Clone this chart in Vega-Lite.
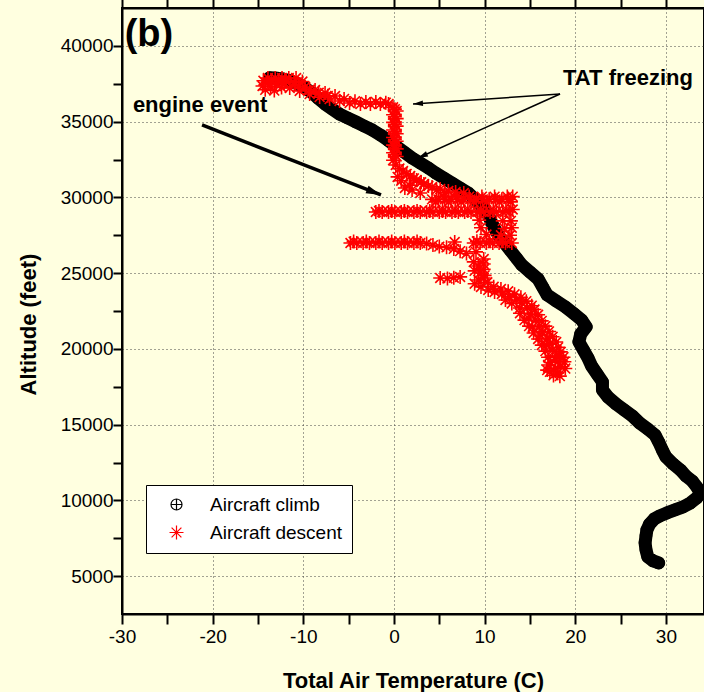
{
  "$schema": "https://vega.github.io/schema/vega-lite/v6.json",
  "width": 582,
  "height": 606,
  "autosize": {"type": "none"},
  "padding": {"left": 122, "top": 8, "right": 0, "bottom": 78},
  "background": "#FFFFE0",
  "config": {
    "view": {"stroke": "black", "strokeWidth": 2},
    "font": "Liberation Sans",
    "axis": {
      "labelFont": "Liberation Sans",
      "labelFontSize": 19,
      "labelColor": "black",
      "tickColor": "black",
      "tickWidth": 2,
      "domainColor": "black",
      "domainWidth": 2,
      "titleColor": "black",
      "titleFont": "Liberation Sans",
      "titleFontWeight": "bold",
      "titleFontSize": 22,
      "gridColor": "#444444",
      "gridDash": [1, 3],
      "gridWidth": 1,
      "labelFlush": false,
      "labelOverlap": false
    }
  },
  "datasets": {
    "pts": [
      {"s": "Aircraft climb", "t": 29.2, "a": 5870},
      {"s": "Aircraft climb", "t": 28.6, "a": 6000},
      {"s": "Aircraft climb", "t": 28.0, "a": 6270},
      {"s": "Aircraft climb", "t": 27.8, "a": 6730},
      {"s": "Aircraft climb", "t": 27.7, "a": 7190},
      {"s": "Aircraft climb", "t": 27.8, "a": 7650},
      {"s": "Aircraft climb", "t": 27.9, "a": 8050},
      {"s": "Aircraft climb", "t": 28.2, "a": 8440},
      {"s": "Aircraft climb", "t": 28.7, "a": 8770},
      {"s": "Aircraft climb", "t": 29.3, "a": 8970},
      {"s": "Aircraft climb", "t": 30.1, "a": 9170},
      {"s": "Aircraft climb", "t": 31.0, "a": 9370},
      {"s": "Aircraft climb", "t": 31.9, "a": 9570},
      {"s": "Aircraft climb", "t": 32.7, "a": 9830},
      {"s": "Aircraft climb", "t": 33.4, "a": 10160},
      {"s": "Aircraft climb", "t": 33.8, "a": 10490},
      {"s": "Aircraft climb", "t": 33.4, "a": 10890},
      {"s": "Aircraft climb", "t": 32.9, "a": 11280},
      {"s": "Aircraft climb", "t": 32.2, "a": 11610},
      {"s": "Aircraft climb", "t": 31.6, "a": 12010},
      {"s": "Aircraft climb", "t": 30.8, "a": 12400},
      {"s": "Aircraft climb", "t": 30.0, "a": 12870},
      {"s": "Aircraft climb", "t": 29.6, "a": 13330},
      {"s": "Aircraft climb", "t": 29.2, "a": 13860},
      {"s": "Aircraft climb", "t": 28.8, "a": 14320},
      {"s": "Aircraft climb", "t": 28.0, "a": 14710},
      {"s": "Aircraft climb", "t": 27.1, "a": 15110},
      {"s": "Aircraft climb", "t": 26.3, "a": 15570},
      {"s": "Aircraft climb", "t": 25.4, "a": 15970},
      {"s": "Aircraft climb", "t": 24.5, "a": 16360},
      {"s": "Aircraft climb", "t": 23.6, "a": 16820},
      {"s": "Aircraft climb", "t": 23.0, "a": 17290},
      {"s": "Aircraft climb", "t": 23.0, "a": 17820},
      {"s": "Aircraft climb", "t": 22.4, "a": 18340},
      {"s": "Aircraft climb", "t": 21.8, "a": 18870},
      {"s": "Aircraft climb", "t": 21.4, "a": 19400},
      {"s": "Aircraft climb", "t": 20.9, "a": 19930},
      {"s": "Aircraft climb", "t": 20.4, "a": 20460},
      {"s": "Aircraft climb", "t": 20.6, "a": 20980},
      {"s": "Aircraft climb", "t": 21.2, "a": 21450},
      {"s": "Aircraft climb", "t": 20.7, "a": 21910},
      {"s": "Aircraft climb", "t": 19.9, "a": 22300},
      {"s": "Aircraft climb", "t": 18.9, "a": 22770},
      {"s": "Aircraft climb", "t": 17.9, "a": 23160},
      {"s": "Aircraft climb", "t": 16.9, "a": 23560},
      {"s": "Aircraft climb", "t": 16.4, "a": 24080},
      {"s": "Aircraft climb", "t": 15.9, "a": 24610},
      {"s": "Aircraft climb", "t": 15.0, "a": 25070},
      {"s": "Aircraft climb", "t": 14.1, "a": 25540},
      {"s": "Aircraft climb", "t": 13.5, "a": 26000},
      {"s": "Aircraft climb", "t": 12.8, "a": 26530},
      {"s": "Aircraft climb", "t": 12.1, "a": 27060},
      {"s": "Aircraft climb", "t": 11.5, "a": 27520},
      {"s": "Aircraft climb", "t": 11.0, "a": 28050},
      {"s": "Aircraft climb", "t": 10.6, "a": 28570},
      {"s": "Aircraft climb", "t": 10.2, "a": 29040},
      {"s": "Aircraft climb", "t": 9.6, "a": 29500},
      {"s": "Aircraft climb", "t": 8.9, "a": 29900},
      {"s": "Aircraft climb", "t": 8.2, "a": 30290},
      {"s": "Aircraft climb", "t": 7.3, "a": 30620},
      {"s": "Aircraft climb", "t": 6.4, "a": 30950},
      {"s": "Aircraft climb", "t": 5.5, "a": 31280},
      {"s": "Aircraft climb", "t": 4.6, "a": 31610},
      {"s": "Aircraft climb", "t": 3.8, "a": 31940},
      {"s": "Aircraft climb", "t": 2.9, "a": 32270},
      {"s": "Aircraft climb", "t": 2.0, "a": 32600},
      {"s": "Aircraft climb", "t": 1.1, "a": 32990},
      {"s": "Aircraft climb", "t": 0.2, "a": 33390},
      {"s": "Aircraft climb", "t": -0.7, "a": 33790},
      {"s": "Aircraft climb", "t": -1.5, "a": 34120},
      {"s": "Aircraft climb", "t": -2.4, "a": 34450},
      {"s": "Aircraft climb", "t": -3.3, "a": 34710},
      {"s": "Aircraft climb", "t": -4.2, "a": 34980},
      {"s": "Aircraft climb", "t": -5.1, "a": 35240},
      {"s": "Aircraft climb", "t": -6.0, "a": 35500},
      {"s": "Aircraft climb", "t": -6.8, "a": 35830},
      {"s": "Aircraft climb", "t": -7.6, "a": 36160},
      {"s": "Aircraft climb", "t": -8.4, "a": 36560},
      {"s": "Aircraft climb", "t": -9.0, "a": 36890},
      {"s": "Aircraft climb", "t": -9.8, "a": 37220},
      {"s": "Aircraft climb", "t": -10.6, "a": 37480},
      {"s": "Aircraft climb", "t": -11.5, "a": 37700},
      {"s": "Aircraft climb", "t": -12.3, "a": 37820},
      {"s": "Aircraft climb", "t": -13.1, "a": 37880},
      {"s": "Aircraft climb", "t": -13.7, "a": 37900},

      {"s": "Aircraft descent", "t": -13.9, "a": 37880},
      {"s": "Aircraft descent", "t": -13.1, "a": 37880},
      {"s": "Aircraft descent", "t": -12.35, "a": 37880},
      {"s": "Aircraft descent", "t": -11.6, "a": 37880},
      {"s": "Aircraft descent", "t": -10.8, "a": 37880},
      {"s": "Aircraft descent", "t": -14.4, "a": 37700},
      {"s": "Aircraft descent", "t": -13.5, "a": 37700},
      {"s": "Aircraft descent", "t": -12.7, "a": 37700},
      {"s": "Aircraft descent", "t": -11.9, "a": 37650},
      {"s": "Aircraft descent", "t": -11.0, "a": 37600},
      {"s": "Aircraft descent", "t": -10.1, "a": 37650},
      {"s": "Aircraft descent", "t": -13.9, "a": 37550},
      {"s": "Aircraft descent", "t": -13.0, "a": 37480},
      {"s": "Aircraft descent", "t": -12.1, "a": 37550},
      {"s": "Aircraft descent", "t": -14.5, "a": 37350},
      {"s": "Aircraft descent", "t": -13.6, "a": 37300},
      {"s": "Aircraft descent", "t": -14.2, "a": 37100},
      {"s": "Aircraft descent", "t": -13.2, "a": 37050},
      {"s": "Aircraft descent", "t": -12.4, "a": 37250},
      {"s": "Aircraft descent", "t": -11.5, "a": 37220},
      {"s": "Aircraft descent", "t": -10.5, "a": 37350},
      {"s": "Aircraft descent", "t": -10.4, "a": 37020},
      {"s": "Aircraft descent", "t": -9.3, "a": 37100},
      {"s": "Aircraft descent", "t": -9.3, "a": 36820},
      {"s": "Aircraft descent", "t": -8.3, "a": 36900},
      {"s": "Aircraft descent", "t": -8.2, "a": 36620},
      {"s": "Aircraft descent", "t": -7.3, "a": 36700},
      {"s": "Aircraft descent", "t": -7.1, "a": 36490},
      {"s": "Aircraft descent", "t": -6.0, "a": 36360},
      {"s": "Aircraft descent", "t": -5.5, "a": 36500},
      {"s": "Aircraft descent", "t": -4.9, "a": 36230},
      {"s": "Aircraft descent", "t": -4.3, "a": 36350},
      {"s": "Aircraft descent", "t": -3.7, "a": 36160},
      {"s": "Aircraft descent", "t": -3.1, "a": 36300},
      {"s": "Aircraft descent", "t": -2.6, "a": 36160},
      {"s": "Aircraft descent", "t": -2.0, "a": 36300},
      {"s": "Aircraft descent", "t": -1.5, "a": 36160},
      {"s": "Aircraft descent", "t": -0.9, "a": 36250},
      {"s": "Aircraft descent", "t": -0.6, "a": 36160},
      {"s": "Aircraft descent", "t": -12.0, "a": 37750},
      {"s": "Aircraft descent", "t": -10.9, "a": 37480},
      {"s": "Aircraft descent", "t": -9.8, "a": 37290},
      {"s": "Aircraft descent", "t": -8.7, "a": 37090},
      {"s": "Aircraft descent", "t": -7.6, "a": 36890},
      {"s": "Aircraft descent", "t": -6.5, "a": 36690},
      {"s": "Aircraft descent", "t": -0.1, "a": 35950},
      {"s": "Aircraft descent", "t": 0.3, "a": 35700},
      {"s": "Aircraft descent", "t": -0.1, "a": 35450},
      {"s": "Aircraft descent", "t": 0.3, "a": 35200},
      {"s": "Aircraft descent", "t": -0.1, "a": 34950},
      {"s": "Aircraft descent", "t": 0.3, "a": 34700},
      {"s": "Aircraft descent", "t": -0.1, "a": 34450},
      {"s": "Aircraft descent", "t": 0.3, "a": 34200},
      {"s": "Aircraft descent", "t": -0.1, "a": 33950},
      {"s": "Aircraft descent", "t": 0.3, "a": 33700},
      {"s": "Aircraft descent", "t": -0.1, "a": 33450},
      {"s": "Aircraft descent", "t": 0.3, "a": 33200},
      {"s": "Aircraft descent", "t": -0.1, "a": 32950},
      {"s": "Aircraft descent", "t": 0.3, "a": 32700},
      {"s": "Aircraft descent", "t": -0.1, "a": 32450},
      {"s": "Aircraft descent", "t": 0.1, "a": 35825},
      {"s": "Aircraft descent", "t": 0.1, "a": 35325},
      {"s": "Aircraft descent", "t": 0.1, "a": 34825},
      {"s": "Aircraft descent", "t": 0.1, "a": 34325},
      {"s": "Aircraft descent", "t": 0.1, "a": 33825},
      {"s": "Aircraft descent", "t": 0.1, "a": 33325},
      {"s": "Aircraft descent", "t": 0.1, "a": 32825},
      {"s": "Aircraft descent", "t": 0.2, "a": 32140},
      {"s": "Aircraft descent", "t": 1.0, "a": 31740},
      {"s": "Aircraft descent", "t": 1.8, "a": 31410},
      {"s": "Aircraft descent", "t": 2.5, "a": 31150},
      {"s": "Aircraft descent", "t": 3.3, "a": 30880},
      {"s": "Aircraft descent", "t": 4.2, "a": 30690},
      {"s": "Aircraft descent", "t": 5.1, "a": 30550},
      {"s": "Aircraft descent", "t": 6.0, "a": 30420},
      {"s": "Aircraft descent", "t": 6.8, "a": 30350},
      {"s": "Aircraft descent", "t": 7.7, "a": 30290},
      {"s": "Aircraft descent", "t": 0.6, "a": 31900},
      {"s": "Aircraft descent", "t": 1.4, "a": 31550},
      {"s": "Aircraft descent", "t": 2.2, "a": 31250},
      {"s": "Aircraft descent", "t": 3.0, "a": 31000},
      {"s": "Aircraft descent", "t": 3.8, "a": 30750},
      {"s": "Aircraft descent", "t": 4.7, "a": 30500},
      {"s": "Aircraft descent", "t": 5.6, "a": 30300},
      {"s": "Aircraft descent", "t": 0.8, "a": 31100},
      {"s": "Aircraft descent", "t": 1.7, "a": 30800},
      {"s": "Aircraft descent", "t": 0.4, "a": 31350},
      {"s": "Aircraft descent", "t": 1.2, "a": 30620},
      {"s": "Aircraft descent", "t": 2.0, "a": 30490},
      {"s": "Aircraft descent", "t": 2.9, "a": 30290},
      {"s": "Aircraft descent", "t": 4.2, "a": 29870},
      {"s": "Aircraft descent", "t": 4.9, "a": 29870},
      {"s": "Aircraft descent", "t": 5.6, "a": 29870},
      {"s": "Aircraft descent", "t": 6.3, "a": 29870},
      {"s": "Aircraft descent", "t": 7.0, "a": 29870},
      {"s": "Aircraft descent", "t": 7.7, "a": 29870},
      {"s": "Aircraft descent", "t": 8.4, "a": 29870},
      {"s": "Aircraft descent", "t": 9.1, "a": 29870},
      {"s": "Aircraft descent", "t": 9.8, "a": 29870},
      {"s": "Aircraft descent", "t": 10.5, "a": 29870},
      {"s": "Aircraft descent", "t": 11.2, "a": 29870},
      {"s": "Aircraft descent", "t": 11.9, "a": 29870},
      {"s": "Aircraft descent", "t": 12.6, "a": 29870},
      {"s": "Aircraft descent", "t": 13.1, "a": 30050},
      {"s": "Aircraft descent", "t": 5.5, "a": 30050},
      {"s": "Aircraft descent", "t": 6.9, "a": 30050},
      {"s": "Aircraft descent", "t": 8.3, "a": 30050},
      {"s": "Aircraft descent", "t": 9.7, "a": 30050},
      {"s": "Aircraft descent", "t": 11.1, "a": 30050},
      {"s": "Aircraft descent", "t": 12.5, "a": 30050},
      {"s": "Aircraft descent", "t": 4.6, "a": 29700},
      {"s": "Aircraft descent", "t": 6.0, "a": 29700},
      {"s": "Aircraft descent", "t": 7.4, "a": 29700},
      {"s": "Aircraft descent", "t": 8.8, "a": 29700},
      {"s": "Aircraft descent", "t": 10.2, "a": 29700},
      {"s": "Aircraft descent", "t": 11.6, "a": 29700},
      {"s": "Aircraft descent", "t": 12.9, "a": 29700},
      {"s": "Aircraft descent", "t": -2.0, "a": 29036},
      {"s": "Aircraft descent", "t": -1.3, "a": 29036},
      {"s": "Aircraft descent", "t": -0.6, "a": 29036},
      {"s": "Aircraft descent", "t": 0.1, "a": 29036},
      {"s": "Aircraft descent", "t": 0.8, "a": 29036},
      {"s": "Aircraft descent", "t": 1.5, "a": 29036},
      {"s": "Aircraft descent", "t": 2.2, "a": 29036},
      {"s": "Aircraft descent", "t": 2.9, "a": 29036},
      {"s": "Aircraft descent", "t": 3.6, "a": 29036},
      {"s": "Aircraft descent", "t": 4.3, "a": 29036},
      {"s": "Aircraft descent", "t": 5.0, "a": 29036},
      {"s": "Aircraft descent", "t": 5.7, "a": 29036},
      {"s": "Aircraft descent", "t": 6.4, "a": 29036},
      {"s": "Aircraft descent", "t": 7.1, "a": 29036},
      {"s": "Aircraft descent", "t": 7.8, "a": 29036},
      {"s": "Aircraft descent", "t": 8.5, "a": 29036},
      {"s": "Aircraft descent", "t": 9.2, "a": 29036},
      {"s": "Aircraft descent", "t": 9.9, "a": 29036},
      {"s": "Aircraft descent", "t": 10.6, "a": 29036},
      {"s": "Aircraft descent", "t": 11.3, "a": 29036},
      {"s": "Aircraft descent", "t": 12.0, "a": 29036},
      {"s": "Aircraft descent", "t": 12.7, "a": 29036},
      {"s": "Aircraft descent", "t": -1.65, "a": 29100},
      {"s": "Aircraft descent", "t": -0.25, "a": 29100},
      {"s": "Aircraft descent", "t": 1.15, "a": 29100},
      {"s": "Aircraft descent", "t": 2.55, "a": 29100},
      {"s": "Aircraft descent", "t": 3.95, "a": 29100},
      {"s": "Aircraft descent", "t": 5.35, "a": 29100},
      {"s": "Aircraft descent", "t": 6.75, "a": 29100},
      {"s": "Aircraft descent", "t": 8.15, "a": 29100},
      {"s": "Aircraft descent", "t": 9.55, "a": 29100},
      {"s": "Aircraft descent", "t": 10.95, "a": 29100},
      {"s": "Aircraft descent", "t": 12.35, "a": 29100},
      {"s": "Aircraft descent", "t": 13.1, "a": 29200},
      {"s": "Aircraft descent", "t": 9.4, "a": 28500},
      {"s": "Aircraft descent", "t": 12.0, "a": 28450},
      {"s": "Aircraft descent", "t": 12.9, "a": 28450},
      {"s": "Aircraft descent", "t": 9.6, "a": 28000},
      {"s": "Aircraft descent", "t": 12.2, "a": 27950},
      {"s": "Aircraft descent", "t": 13.0, "a": 28000},
      {"s": "Aircraft descent", "t": 11.8, "a": 27500},
      {"s": "Aircraft descent", "t": 12.8, "a": 27500},
      {"s": "Aircraft descent", "t": 10.2, "a": 27550},
      {"s": "Aircraft descent", "t": -4.8, "a": 26990},
      {"s": "Aircraft descent", "t": -4.1, "a": 26990},
      {"s": "Aircraft descent", "t": -3.4, "a": 26990},
      {"s": "Aircraft descent", "t": -2.7, "a": 26990},
      {"s": "Aircraft descent", "t": -2.0, "a": 26990},
      {"s": "Aircraft descent", "t": -1.3, "a": 26990},
      {"s": "Aircraft descent", "t": -0.6, "a": 26990},
      {"s": "Aircraft descent", "t": 0.1, "a": 26990},
      {"s": "Aircraft descent", "t": 0.8, "a": 26990},
      {"s": "Aircraft descent", "t": 1.5, "a": 26990},
      {"s": "Aircraft descent", "t": 2.2, "a": 26990},
      {"s": "Aircraft descent", "t": 2.9, "a": 26990},
      {"s": "Aircraft descent", "t": -4.45, "a": 27080},
      {"s": "Aircraft descent", "t": -3.05, "a": 27080},
      {"s": "Aircraft descent", "t": -1.65, "a": 27080},
      {"s": "Aircraft descent", "t": -0.25, "a": 27080},
      {"s": "Aircraft descent", "t": 1.15, "a": 27080},
      {"s": "Aircraft descent", "t": 2.55, "a": 27080},
      {"s": "Aircraft descent", "t": 3.6, "a": 26950},
      {"s": "Aircraft descent", "t": 4.3, "a": 26850},
      {"s": "Aircraft descent", "t": 5.0, "a": 26750},
      {"s": "Aircraft descent", "t": 5.8, "a": 26700},
      {"s": "Aircraft descent", "t": 6.7, "a": 27050},
      {"s": "Aircraft descent", "t": 6.6, "a": 26600},
      {"s": "Aircraft descent", "t": 7.3, "a": 26450},
      {"s": "Aircraft descent", "t": 8.0, "a": 26300},
      {"s": "Aircraft descent", "t": 8.8, "a": 26990},
      {"s": "Aircraft descent", "t": 9.5, "a": 26990},
      {"s": "Aircraft descent", "t": 10.2, "a": 26990},
      {"s": "Aircraft descent", "t": 10.9, "a": 26990},
      {"s": "Aircraft descent", "t": 11.6, "a": 26990},
      {"s": "Aircraft descent", "t": 12.3, "a": 26990},
      {"s": "Aircraft descent", "t": 13.0, "a": 26990},
      {"s": "Aircraft descent", "t": 9.15, "a": 27100},
      {"s": "Aircraft descent", "t": 10.55, "a": 27100},
      {"s": "Aircraft descent", "t": 11.95, "a": 27100},
      {"s": "Aircraft descent", "t": 9.05, "a": 26400},
      {"s": "Aircraft descent", "t": 9.9, "a": 25930},
      {"s": "Aircraft descent", "t": 8.8, "a": 25740},
      {"s": "Aircraft descent", "t": 9.9, "a": 25600},
      {"s": "Aircraft descent", "t": 9.3, "a": 25470},
      {"s": "Aircraft descent", "t": 9.9, "a": 25250},
      {"s": "Aircraft descent", "t": 8.9, "a": 25150},
      {"s": "Aircraft descent", "t": 9.5, "a": 25010},
      {"s": "Aircraft descent", "t": 10.0, "a": 24850},
      {"s": "Aircraft descent", "t": 9.9, "a": 24680},
      {"s": "Aircraft descent", "t": 9.3, "a": 24550},
      {"s": "Aircraft descent", "t": 10.3, "a": 24400},
      {"s": "Aircraft descent", "t": 8.9, "a": 24300},
      {"s": "Aircraft descent", "t": 9.6, "a": 24090},
      {"s": "Aircraft descent", "t": 11.0, "a": 24100},
      {"s": "Aircraft descent", "t": 10.4, "a": 23890},
      {"s": "Aircraft descent", "t": 11.8, "a": 23950},
      {"s": "Aircraft descent", "t": 11.1, "a": 23760},
      {"s": "Aircraft descent", "t": 12.6, "a": 23800},
      {"s": "Aircraft descent", "t": 11.9, "a": 23620},
      {"s": "Aircraft descent", "t": 13.3, "a": 23600},
      {"s": "Aircraft descent", "t": 12.7, "a": 23430},
      {"s": "Aircraft descent", "t": 14.0, "a": 23400},
      {"s": "Aircraft descent", "t": 13.5, "a": 23230},
      {"s": "Aircraft descent", "t": 12.3, "a": 23230},
      {"s": "Aircraft descent", "t": 14.6, "a": 23150},
      {"s": "Aircraft descent", "t": 14.1, "a": 23030},
      {"s": "Aircraft descent", "t": 13.0, "a": 23000},
      {"s": "Aircraft descent", "t": 15.2, "a": 22850},
      {"s": "Aircraft descent", "t": 14.7, "a": 22700},
      {"s": "Aircraft descent", "t": 13.9, "a": 22700},
      {"s": "Aircraft descent", "t": 15.5, "a": 22600},
      {"s": "Aircraft descent", "t": 13.9, "a": 22350},
      {"s": "Aircraft descent", "t": 15.1, "a": 22300},
      {"s": "Aircraft descent", "t": 15.9, "a": 22250},
      {"s": "Aircraft descent", "t": 14.8, "a": 22040},
      {"s": "Aircraft descent", "t": 15.6, "a": 21910},
      {"s": "Aircraft descent", "t": 14.4, "a": 21900},
      {"s": "Aircraft descent", "t": 16.3, "a": 21850},
      {"s": "Aircraft descent", "t": 16.0, "a": 21510},
      {"s": "Aircraft descent", "t": 14.9, "a": 21500},
      {"s": "Aircraft descent", "t": 16.7, "a": 21500},
      {"s": "Aircraft descent", "t": 15.3, "a": 21450},
      {"s": "Aircraft descent", "t": 17.1, "a": 21150},
      {"s": "Aircraft descent", "t": 16.4, "a": 21120},
      {"s": "Aircraft descent", "t": 15.4, "a": 21050},
      {"s": "Aircraft descent", "t": 16.1, "a": 20920},
      {"s": "Aircraft descent", "t": 17.5, "a": 20800},
      {"s": "Aircraft descent", "t": 16.9, "a": 20720},
      {"s": "Aircraft descent", "t": 15.9, "a": 20650},
      {"s": "Aircraft descent", "t": 17.9, "a": 20450},
      {"s": "Aircraft descent", "t": 17.2, "a": 20320},
      {"s": "Aircraft descent", "t": 16.8, "a": 20260},
      {"s": "Aircraft descent", "t": 16.3, "a": 20250},
      {"s": "Aircraft descent", "t": 18.1, "a": 20100},
      {"s": "Aircraft descent", "t": 17.5, "a": 19930},
      {"s": "Aircraft descent", "t": 16.7, "a": 19850},
      {"s": "Aircraft descent", "t": 18.4, "a": 19800},
      {"s": "Aircraft descent", "t": 17.9, "a": 19530},
      {"s": "Aircraft descent", "t": 18.3, "a": 19530},
      {"s": "Aircraft descent", "t": 17.0, "a": 19450},
      {"s": "Aircraft descent", "t": 18.7, "a": 19450},
      {"s": "Aircraft descent", "t": 17.8, "a": 19270},
      {"s": "Aircraft descent", "t": 18.8, "a": 19150},
      {"s": "Aircraft descent", "t": 18.1, "a": 19140},
      {"s": "Aircraft descent", "t": 17.3, "a": 19100},
      {"s": "Aircraft descent", "t": 17.0, "a": 18940},
      {"s": "Aircraft descent", "t": 18.4, "a": 18810},
      {"s": "Aircraft descent", "t": 17.8, "a": 18740},
      {"s": "Aircraft descent", "t": 18.9, "a": 18700},
      {"s": "Aircraft descent", "t": 16.9, "a": 18600},
      {"s": "Aircraft descent", "t": 17.2, "a": 18480},
      {"s": "Aircraft descent", "t": 18.0, "a": 18410},
      {"s": "Aircraft descent", "t": 17.6, "a": 18250},
      {"s": "Aircraft descent", "t": 18.3, "a": 18200},
      {"s": "Aircraft descent", "t": 5.1, "a": 24680},
      {"s": "Aircraft descent", "t": 5.9, "a": 24650},
      {"s": "Aircraft descent", "t": 6.6, "a": 24700},
      {"s": "Aircraft descent", "t": 7.3, "a": 24750}
    ],
    "arrows": [
      {"id": "engine", "t1": -21.17, "a1": 34778, "t2": -1.43, "a2": 30158},
      {"id": "tat1", "t1": 18.32, "a1": 36824, "t2": 2.1, "a2": 36164},
      {"id": "tat2", "t1": 18.32, "a1": 36824, "t2": 2.65, "a2": 32600}
    ],
    "notes": [
      {"id": "panel", "label": "(b)", "t": -29.7, "a": 40000},
      {"id": "note", "label": "engine event", "t": -28.8, "a": 35650},
      {"id": "note", "label": "TAT freezing", "t": 18.65, "a": 37418}
    ]
  },
  "layer": [
    {
      "data": {"name": "pts"},
      "transform": [{"filter": "datum.s === 'Aircraft climb'"}],
      "mark": {"type": "line", "color": "black", "strokeWidth": 13, "strokeJoin": "round", "strokeCap": "round"},
      "encoding": {
        "x": {
          "field": "t", "type": "quantitative",
          "scale": {"domain": [-30, 34.2], "nice": false, "zero": false},
          "axis": {
            "orient": "bottom",
            "values": [-30, -25, -20, -15, -10, -5, 0, 5, 10, 15, 20, 25, 30],
            "tickSize": 10,
            "labelExpr": "datum.value % 10 === 0 ? '' + datum.value : ''",
            "labelPadding": 3,
            "grid": true,
            "gridOpacity": {"condition": {"test": "datum.value % 10 === 0", "value": 1}, "value": 0},
            "title": "Total Air Temperature (C)",
            "titleY": 73,
            "titleBaseline": "alphabetic",
            "encode": {"ticks": {"update": {"y2": {"signal": "datum.value % 10 === 0 ? -10 : -6"}}}}
          }
        },
        "y": {
          "field": "a", "type": "quantitative",
          "scale": {"domain": [2500, 42500], "nice": false, "zero": false},
          "axis": {
            "orient": "left",
            "values": [5000, 7500, 10000, 12500, 15000, 17500, 20000, 22500, 25000, 27500, 30000, 32500, 35000, 37500, 40000],
            "tickSize": 9,
            "labelExpr": "datum.value % 5000 === 0 ? '' + datum.value : ''",
            "labelPadding": 0,
            "grid": true,
            "gridOpacity": {"condition": {"test": "datum.value % 5000 === 0", "value": 1}, "value": 0},
            "title": "Altitude (feet)",
            "titleAngle": 270,
            "titleX": -87,
            "titleY": 316,
            "titleAlign": "center",
            "titleBaseline": "alphabetic",
            "encode": {"ticks": {"update": {"x2": {"signal": "datum.value % 5000 === 0 ? 10 : 6"}}}}
          }
        },
        "order": {"field": "a", "type": "quantitative"}
      }
    },
    {
      "data": {"name": "pts"},
      "mark": {"type": "point", "filled": false, "strokeWidth": 1.6, "opacity": 1},
      "encoding": {
        "x": {
          "field": "t", "type": "quantitative",
          "axis": {
            "orient": "top",
            "values": [-30, -25, -20, -15, -10, -5, 0, 5, 10, 15, 20, 25, 30],
            "tickSize": 10,
            "labels": false, "grid": false, "title": null,
            "encode": {"ticks": {"update": {"y2": {"signal": "datum.value % 10 === 0 ? 10 : 6"}}}}
          }
        },
        "y": {
          "field": "a", "type": "quantitative",
          "axis": {
            "orient": "right",
            "values": [5000, 7500, 10000, 12500, 15000, 17500, 20000, 22500, 25000, 27500, 30000, 32500, 35000, 37500, 40000],
            "tickSize": 10,
            "labels": false, "grid": false, "title": null,
            "encode": {"ticks": {"update": {"x2": {"signal": "datum.value % 5000 === 0 ? -10 : -6"}}}}
          }
        },
        "color": {
          "field": "s", "type": "nominal",
          "scale": {"domain": ["Aircraft climb", "Aircraft descent"], "range": ["#000000", "#FF0000"]},
          "legend": {
            "orient": "none", "legendX": 24, "legendY": 477, "title": null,
            "fillColor": "white", "strokeColor": "black", "padding": 10,
            "symbolOffset": 11, "labelOffset": 24, "labelFontSize": 19, "labelColor": "black",
            "labelFont": "Liberation Sans", "rowPadding": 8, "symbolSize": 140, "symbolStrokeWidth": 1.2,
            "encode": {"legend": {"update": {"strokeWidth": {"value": 2}}}}
          }
        },
        "shape": {
          "field": "s", "type": "nominal",
          "scale": {
            "domain": ["Aircraft climb", "Aircraft descent"],
            "range": [
              "M-1,0A1,1,0,1,1,1,0A1,1,0,1,1,-1,0ZM-1,0L1,0M0,-1L0,1",
              "M-1,0L1,0M0,-1L0,1M-0.7,-0.7L0.7,0.7M-0.7,0.7L0.7,-0.7"
            ]
          }
        },
        "size": {
          "field": "s", "type": "nominal",
          "scale": {"domain": ["Aircraft climb", "Aircraft descent"], "range": [121, 196]},
          "legend": null
        }
      }
    },
    {
      "data": {"name": "arrows"},
      "transform": [{"filter": "datum.id === 'engine'"}],
      "mark": {"type": "rule", "color": "black", "strokeWidth": 3.5},
      "encoding": {
        "x": {"field": "t1", "type": "quantitative", "axis": null},
        "y": {"field": "a1", "type": "quantitative", "axis": null},
        "x2": {"field": "t2"},
        "y2": {"field": "a2"}
      }
    },
    {
      "data": {"name": "arrows"},
      "transform": [{"filter": "datum.id !== 'engine'"}],
      "mark": {"type": "rule", "color": "black", "strokeWidth": 1.5},
      "encoding": {
        "x": {"field": "t1", "type": "quantitative", "axis": null},
        "y": {"field": "a1", "type": "quantitative", "axis": null},
        "x2": {"field": "t2"},
        "y2": {"field": "a2"}
      }
    },
    {
      "data": {"name": "arrows"},
      "transform": [{"filter": "datum.id === 'engine'"}],
      "mark": {"type": "point", "shape": "M0,0L-2,-0.55L-2,0.55Z", "filled": true, "color": "black", "opacity": 1, "size": 225, "angle": 21.4},
      "encoding": {
        "x": {"field": "t2", "type": "quantitative", "axis": null},
        "y": {"field": "a2", "type": "quantitative", "axis": null}
      }
    },
    {
      "data": {"name": "arrows"},
      "transform": [{"filter": "datum.id === 'tat1'"}],
      "mark": {"type": "point", "shape": "M0,0L-2,-0.55L-2,0.55Z", "filled": true, "color": "black", "opacity": 1, "size": 100, "angle": 176.1},
      "encoding": {
        "x": {"field": "t2", "type": "quantitative", "axis": null},
        "y": {"field": "a2", "type": "quantitative", "axis": null}
      }
    },
    {
      "data": {"name": "arrows"},
      "transform": [{"filter": "datum.id === 'tat2'"}],
      "mark": {"type": "point", "shape": "M0,0L-2,-0.55L-2,0.55Z", "filled": true, "color": "black", "opacity": 1, "size": 100, "angle": 155.7},
      "encoding": {
        "x": {"field": "t2", "type": "quantitative", "axis": null},
        "y": {"field": "a2", "type": "quantitative", "axis": null}
      }
    },
    {
      "data": {"name": "notes"},
      "transform": [{"filter": "datum.id === 'panel'"}],
      "mark": {"type": "text", "font": "Liberation Sans", "fontWeight": "bold", "fontSize": 38, "align": "left", "baseline": "alphabetic", "color": "black"},
      "encoding": {
        "x": {"field": "t", "type": "quantitative", "axis": null},
        "y": {"field": "a", "type": "quantitative", "axis": null},
        "text": {"field": "label"}
      }
    },
    {
      "data": {"name": "notes"},
      "transform": [{"filter": "datum.id === 'note'"}],
      "mark": {"type": "text", "font": "Liberation Sans", "fontWeight": "bold", "fontSize": 22, "align": "left", "baseline": "alphabetic", "color": "black"},
      "encoding": {
        "x": {"field": "t", "type": "quantitative", "axis": null},
        "y": {"field": "a", "type": "quantitative", "axis": null},
        "text": {"field": "label"}
      }
    }
  ]
}
